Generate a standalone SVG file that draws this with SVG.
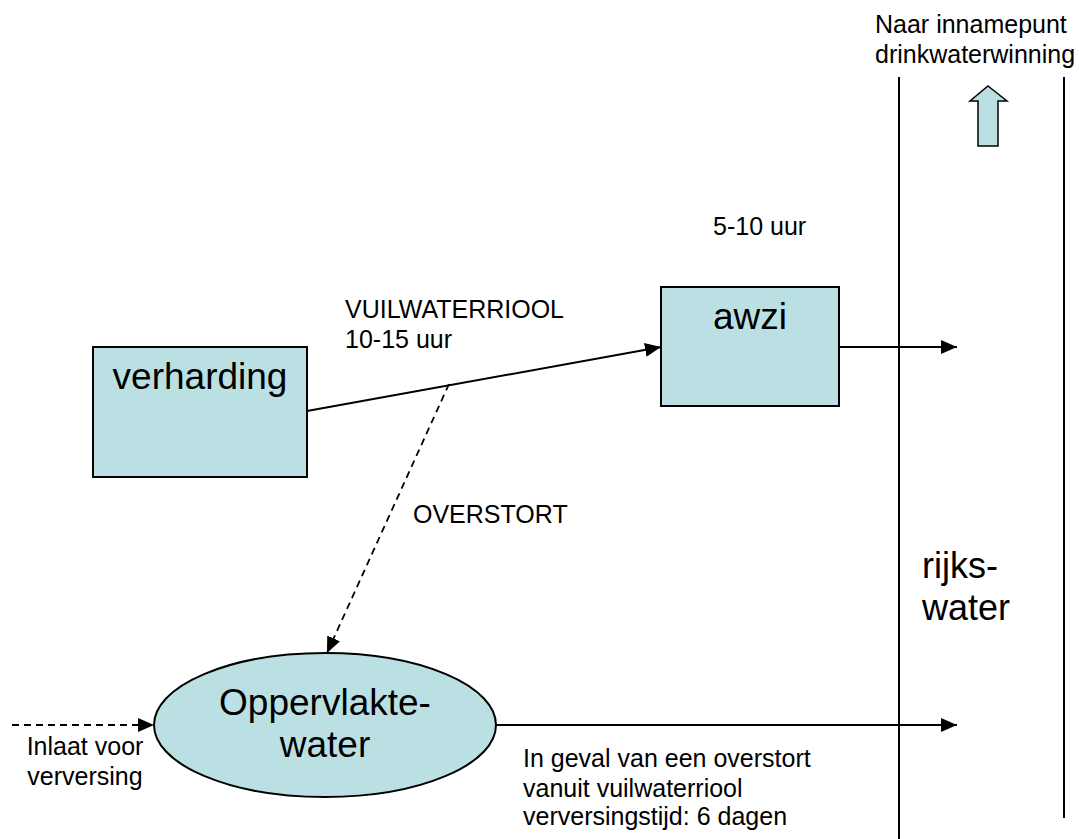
<svg xmlns="http://www.w3.org/2000/svg" width="1079" height="839" viewBox="0 0 1079 839">
<style>
.node{fill:#BBE0E3;stroke:#000;stroke-width:2}
.big{font-family:"Liberation Sans",Arial,sans-serif;font-size:37px;fill:#000}
.small{font-family:"Liberation Sans",Arial,sans-serif;font-size:25px;fill:#000}
.line{stroke:#000;stroke-width:2;fill:none}
.dash{stroke:#000;stroke-width:1.8;fill:none;stroke-dasharray:7 5}
</style>
<defs>
<marker id="ah" markerUnits="userSpaceOnUse" markerWidth="16" markerHeight="14" refX="16" refY="7" orient="auto">
<path d="M0,0 L16,7 L0,14 Z" fill="#000"/>
</marker>
</defs>
<rect width="1079" height="839" fill="#fff"/>
<g id="river">
<line class="line" x1="899" y1="77" x2="899" y2="839"/>
<line class="line" x1="1064" y1="77" x2="1064" y2="818"/>
<text class="big" x="922" y="578" style="font-size:36px">rijks-</text>
<text class="big" x="922" y="620" style="font-size:36px">water</text>
<text class="small" x="875" y="33">Naar innamepunt</text>
<text class="small" x="875" y="63">drinkwaterwinning</text>
<polygon points="988,86 1007,101 998,101 998,146 978,146 978,101 970,101" fill="#BBE0E3" stroke="#000" stroke-width="1.5"/>
</g>
<g id="connectors">
<line class="line" x1="307" y1="411" x2="661" y2="347" marker-end="url(#ah)"/>
<line class="dash" x1="449" y1="384" x2="327" y2="653" marker-end="url(#ah)"/>
<line class="line" x1="839" y1="347" x2="957" y2="347" marker-end="url(#ah)"/>
<line class="line" x1="496" y1="725" x2="957" y2="725" marker-end="url(#ah)"/>
<line class="dash" x1="12" y1="725" x2="154" y2="725" marker-end="url(#ah)"/>
<text class="small" x="345" y="318">VUILWATERRIOOL</text>
<text class="small" x="345" y="348">10-15 uur</text>
<text class="small" x="413" y="523">OVERSTORT</text>
<text class="small" x="713" y="235">5-10 uur</text>
<text class="small" x="85" y="755" text-anchor="middle">Inlaat voor</text>
<text class="small" x="85" y="785" text-anchor="middle">verversing</text>
<text class="small" x="523" y="767">In geval van een overstort</text>
<text class="small" x="523" y="797">vanuit vuilwaterriool</text>
<text class="small" x="523" y="825">verversingstijd: 6 dagen</text>
</g>
<g id="verharding">
<rect class="node" x="93" y="347" width="214" height="130"/>
<text class="big" x="200" y="389" text-anchor="middle">verharding</text>
</g>
<g id="awzi">
<rect class="node" x="661" y="287" width="178" height="119"/>
<text class="big" x="750" y="329" text-anchor="middle">awzi</text>
</g>
<g id="oppervlaktewater">
<ellipse class="node" cx="325" cy="725" rx="171" ry="72"/>
<text class="big" x="325" y="715" text-anchor="middle">Oppervlakte-</text>
<text class="big" x="325" y="757" text-anchor="middle">water</text>
</g>
</svg>
